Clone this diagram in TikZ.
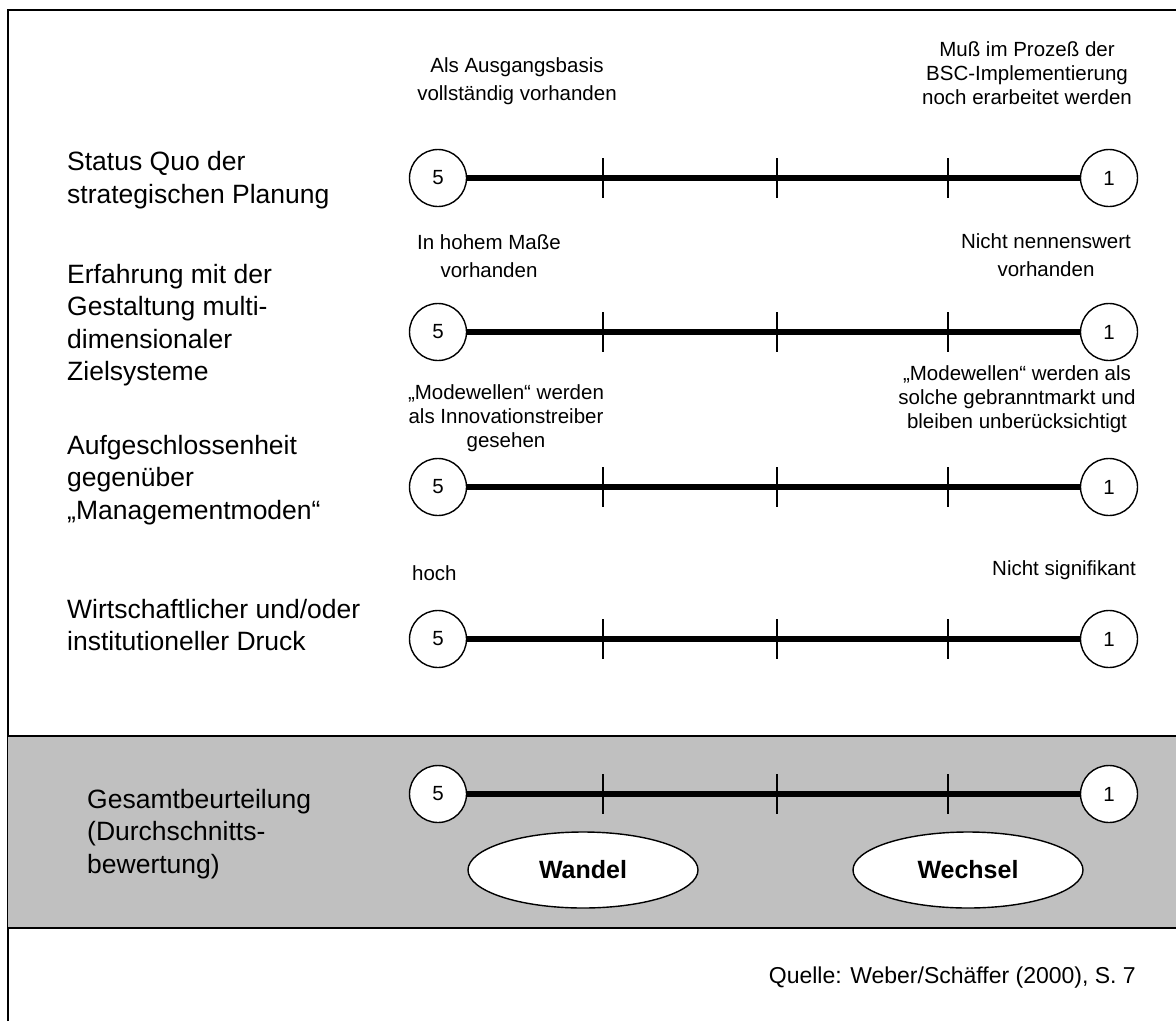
\documentclass[tikz,border=0pt]{standalone}
\usepackage{fontspec}
\setmainfont{Liberation Sans}
\usetikzlibrary{shapes.geometric}
\definecolor{bandgray}{RGB}{192,192,192}
\begin{document}
\begin{tikzpicture}[x=1pt,y=-1pt,
  frameline/.style={line width=1.8pt},
  scaleline/.style={line width=6pt},
  tickline/.style={line width=1.5pt},
  scorecircle/.style={draw, circle, line width=1.4pt, fill=white, minimum size=57pt,
    inner sep=0pt, font=\fontsize{20.5}{24}\selectfont},
  rowlabel/.style={anchor=west, align=left, inner sep=0pt,
    font=\fontsize{26.5}{32.5}\selectfont},
  polelabel/.style={align=center, inner sep=0pt, font=\fontsize{20.5}{28}\selectfont},
  polelabelthree/.style={align=center, inner sep=0pt, font=\fontsize{20.5}{24}\selectfont},
  verdict/.style={draw, ellipse, line width=1.4pt, fill=white, minimum width=230pt,
    minimum height=76pt, inner sep=0pt, font=\bfseries\fontsize{25}{30}\selectfont}
]
\useasboundingbox (0,0) rectangle (1176,1021);

% outer frame (open to the right and bottom)
\draw[frameline] (8,1021) -- (8,10) -- (1176,10);

% shaded band for the overall rating
\fill[bandgray] (8,736) rectangle (1176,928);
\draw[frameline] (8,736) -- (1176,736);
\draw[frameline] (8,928) -- (1176,928);

% criterion labels
\node[rowlabel] (lab1) at (67,180) {Status Quo der\\strategischen Planung};
\node[rowlabel] (lab2) at (67,325) {Erfahrung mit der\\Gestaltung multi-\\dimensionaler\\Zielsysteme};
\node[rowlabel] (lab3) at (67,480) {Aufgeschlossenheit\\gegenüber\\„Managementmoden“};
\node[rowlabel] (lab4) at (67,625) {Wirtschaftlicher und/oder\\institutioneller Druck};
\node[rowlabel] (lab5) at (87,834) {Gesamtbeurteilung\\(Durchschnitts-\\bewertung)};

% pole descriptions above each scale
\node[polelabel] (p1l) at (517,81) {Als Ausgangsbasis\\vollständig vorhanden};
\node[polelabelthree] (p1r) at (1027,73) {Muß im Prozeß der\\BSC-Implementierung\\noch erarbeitet werden};
\node[polelabel] (p2l) at (489,256) {In hohem Maße\\vorhanden};
\node[polelabel] (p2r) at (1046,255) {Nicht nennenswert\\vorhanden};
\node[polelabelthree] (p3l) at (506,418) {„Modewellen“ werden\\als Innovationstreiber\\gesehen};
\node[polelabelthree] (p3r) at (1017,399) {„Modewellen“ werden als\\solche gebranntmarkt und\\bleiben unberücksichtigt};
\node[polelabel, anchor=west] (p4l) at (412,573) {hoch};
\node[polelabel] (p4r) at (1064,570) {Nicht signifikant};

% rating scales from 5 to 1
\foreach \i/\y in {1/178,2/332,3/487,4/639,5/794} {
  \node[scorecircle] (lo\i) at (438,\y) {5};
  \node[scorecircle] (hi\i) at (1109,\y) {1};
  \draw[scaleline] (lo\i) -- (hi\i);
  \foreach \x in {603,777,948}
    \draw[tickline] (\x,\y-20) -- (\x,\y+20);
}

% resulting strategies
\node[verdict] (wandel) at (583,870) {Wandel};
\node[verdict] (wechsel) at (968,870) {Wechsel};

% source
\node[anchor=east, inner sep=0pt, font=\fontsize{23}{28}\selectfont] (src) at (1136,978)
  {Quelle: Weber/Schäffer (2000), S. 7};
\end{tikzpicture}
\end{document}
